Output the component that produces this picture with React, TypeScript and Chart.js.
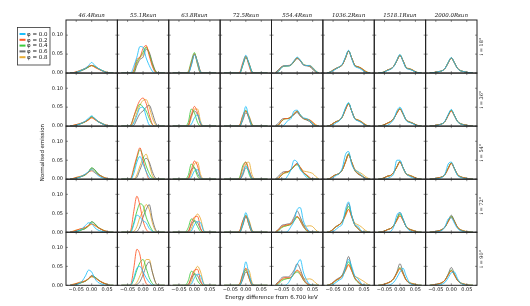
import React, { useEffect, useRef } from 'react';
import { Chart, registerables } from 'chart.js';

Chart.register(...registerables);

// Energy grid (keV offset from 6.700 keV)
const ENERGY = [-0.07, -0.06, -0.05, -0.04, -0.03, -0.02, -0.01, 0, 0.01, 0.02, 0.03, 0.04, 0.05, 0.06, 0.07];
const PHI_LABELS = ['φ = 0.0', 'φ = 0.2', 'φ = 0.4', 'φ = 0.6', 'φ = 0.8'];
const COLUMN_TITLES = ['46.4Rsun', '55.1Rsun', '63.8Rsun', '72.5Rsun', '554.4Rsun', '1036.2Rsun', '1518.1Rsun', '2000.0Rsun'];
const ROW_TITLES = ['i = 18°', 'i = 36°', 'i = 54°', 'i = 72°', 'i = 90°'];
const X_TICKS = [-0.05, 0, 0.05];
const Y_TICKS = [0, 0.05, 0.1];
const X_LABEL = 'Energy difference from 6.700 keV';
const Y_LABEL = 'Normalised emission';

// each panel: [φ0.0, φ0.2, φ0.4, φ0.6, φ0.8]
// row 0: i = 18°
const R0C0 = [
  [0, 0, .002, .005, .009, .013, .02, .028, .02, .013, .008, .004, .001, 0, 0],
  [0, .001, .003, .006, .009, .013, .018, .02, .015, .011, .007, .004, .001, 0, 0],
  [0, 0, .002, .005, .008, .012, .016, .02, .017, .012, .008, .004, .001, 0, 0],
  [0, 0, .001, .004, .007, .011, .016, .02, .018, .013, .008, .004, .001, 0, 0],
  [0, .001, .003, .006, .009, .012, .016, .019, .016, .012, .008, .005, .002, 0, 0],
];
const R0C1 = [
  [0, 0, 0, 0, .018, .042, .07, .068, .04, .02, .005, 0, 0, 0, 0],
  [0, 0, 0, 0, .008, .036, .042, .065, .073, .045, .018, .002, 0, 0, 0],
  [0, 0, 0, 0, .004, .03, .042, .055, .068, .05, .022, .004, 0, 0, 0],
  [0, 0, 0, 0, 0, .02, .036, .042, .063, .055, .028, .006, 0, 0, 0],
  [0, 0, 0, 0, .002, .025, .04, .05, .07, .052, .025, .005, 0, 0, 0],
];
const R0C2 = [
  [0, 0, 0, 0, 0, 0, .02, .048, .028, .002, 0, 0, 0, 0, 0],
  [0, 0, 0, 0, 0, .002, .027, .05, .025, 0, 0, 0, 0, 0, 0],
  [0, 0, 0, 0, 0, .004, .032, .054, .022, 0, 0, 0, 0, 0, 0],
  [0, 0, 0, 0, 0, 0, .022, .05, .03, .004, 0, 0, 0, 0, 0],
  [0, 0, 0, 0, 0, 0, .024, .05, .03, .004, 0, 0, 0, 0, 0],
];
const R0C3 = [
  [0, 0, 0, 0, 0, 0, .022, .047, .025, .003, 0, 0, 0, 0, 0],
  [0, 0, 0, 0, 0, .002, .027, .045, .02, 0, 0, 0, 0, 0, 0],
  [0, 0, 0, 0, 0, 0, .022, .044, .024, .002, 0, 0, 0, 0, 0],
  [0, 0, 0, 0, 0, 0, .02, .04, .027, .004, 0, 0, 0, 0, 0],
  [0, 0, 0, 0, 0, 0, .02, .042, .026, .004, 0, 0, 0, 0, 0],
];
const R0C4 = [
  [0, .005, .015, .019, .019, .022, .033, .042, .034, .022, .02, .02, .014, .005, 0],
  [0, .006, .016, .019, .02, .022, .032, .04, .033, .022, .02, .019, .013, .004, 0],
  [0, .005, .015, .018, .019, .021, .031, .04, .034, .023, .02, .019, .013, .004, 0],
  [.002, .009, .017, .019, .019, .021, .03, .038, .032, .021, .019, .017, .01, .002, 0],
  [.002, .008, .017, .019, .019, .021, .03, .04, .034, .023, .02, .02, .015, .006, .001],
];
const R0C5 = [
  [0, .002, .006, .011, .016, .024, .042, .06, .038, .018, .014, .01, .004, .001, 0],
  [0, .002, .007, .012, .016, .022, .04, .058, .04, .02, .016, .013, .007, .002, 0],
  [0, .002, .007, .012, .016, .022, .04, .059, .04, .02, .016, .013, .007, .002, 0],
  [0, .003, .008, .013, .016, .022, .04, .058, .04, .021, .017, .013, .006, .001, 0],
  [0, .003, .008, .012, .016, .022, .039, .057, .04, .021, .017, .014, .008, .003, 0],
];
const R0C6 = [
  [0, .001, .003, .007, .01, .017, .034, .049, .031, .013, .01, .007, .003, .001, 0],
  [0, .001, .003, .008, .011, .018, .033, .047, .032, .014, .011, .008, .003, .001, 0],
  [0, .001, .003, .008, .011, .018, .033, .048, .032, .014, .011, .008, .003, .001, 0],
  [0, .001, .003, .008, .011, .018, .032, .047, .033, .015, .011, .008, .003, .001, 0],
  [0, .001, .004, .008, .011, .018, .032, .046, .033, .015, .012, .009, .004, .001, 0],
];
const R0C7 = [
  [0, .001, .002, .004, .006, .013, .028, .041, .027, .012, .006, .004, .002, .001, 0],
  [0, .001, .002, .004, .006, .013, .027, .04, .027, .012, .006, .004, .002, .001, 0],
  [0, .001, .002, .004, .006, .013, .028, .04, .027, .012, .006, .004, .002, .001, 0],
  [0, .001, .002, .004, .006, .012, .027, .04, .028, .013, .006, .004, .002, .001, 0],
  [0, .001, .003, .004, .006, .013, .027, .039, .027, .013, .007, .004, .002, .001, 0],
];
// row 1: i = 36°
const R1C0 = [
  [0, 0, .002, .005, .009, .014, .021, .027, .02, .012, .008, .004, .001, 0, 0],
  [0, .002, .004, .006, .009, .012, .017, .022, .017, .012, .008, .004, .002, 0, 0],
  [0, .001, .003, .005, .008, .012, .018, .025, .019, .012, .008, .004, .001, 0, 0],
  [0, 0, .002, .005, .008, .012, .018, .024, .02, .013, .008, .004, .001, 0, 0],
  [0, .002, .004, .006, .009, .012, .016, .022, .018, .013, .009, .005, .002, 0, 0],
];
const R1C1 = [
  [0, 0, 0, 0, .008, .028, .048, .05, .025, .003, 0, 0, 0, 0, 0],
  [0, 0, 0, .002, .025, .05, .068, .074, .06, .03, .005, 0, 0, 0, 0],
  [0, 0, 0, .003, .025, .045, .058, .05, .04, .02, .004, 0, 0, 0, 0],
  [0, 0, 0, 0, .002, .018, .033, .04, .05, .055, .035, .01, 0, 0, 0],
  [0, 0, 0, 0, .012, .035, .055, .068, .07, .05, .022, .004, 0, 0, 0],
];
const R1C2 = [
  [0, 0, 0, 0, 0, 0, .005, .022, .03, .008, 0, 0, 0, 0, 0],
  [0, 0, 0, 0, 0, .003, .03, .052, .035, .005, 0, 0, 0, 0, 0],
  [0, 0, 0, 0, 0, .01, .045, .035, .01, 0, 0, 0, 0, 0, 0],
  [0, 0, 0, 0, 0, .002, .028, .04, .03, .006, 0, 0, 0, 0, 0],
  [0, 0, 0, 0, 0, 0, .022, .045, .045, .012, 0, 0, 0, 0, 0],
];
const R1C3 = [
  [0, 0, 0, 0, 0, 0, .02, .052, .022, 0, 0, 0, 0, 0, 0],
  [0, 0, 0, 0, 0, .003, .028, .04, .02, 0, 0, 0, 0, 0, 0],
  [0, 0, 0, 0, 0, .002, .025, .042, .022, .002, 0, 0, 0, 0, 0],
  [0, 0, 0, 0, 0, 0, .015, .035, .025, .004, 0, 0, 0, 0, 0],
  [0, 0, 0, 0, 0, 0, .018, .04, .028, .006, 0, 0, 0, 0, 0],
];
const R1C4 = [
  [0, 0, 0, .005, .015, .02, .04, .042, .03, .022, .02, .015, .006, 0, 0],
  [0, .003, .014, .02, .02, .025, .033, .04, .028, .02, .018, .016, .01, .002, 0],
  [0, .003, .013, .019, .02, .024, .033, .039, .029, .02, .018, .015, .008, .001, 0],
  [.002, .008, .018, .02, .02, .024, .03, .036, .026, .02, .016, .012, .004, 0, 0],
  [0, .004, .014, .019, .02, .024, .032, .038, .03, .021, .019, .017, .011, .004, 0],
];
const R1C5 = [
  [0, 0, .003, .009, .014, .026, .048, .062, .04, .019, .014, .01, .004, 0, 0],
  [0, .002, .007, .012, .015, .025, .043, .058, .04, .02, .016, .012, .006, .001, 0],
  [0, .002, .007, .012, .015, .025, .045, .06, .04, .02, .016, .012, .006, .001, 0],
  [0, .002, .007, .012, .015, .025, .045, .06, .04, .02, .015, .011, .005, .001, 0],
  [0, .002, .007, .012, .015, .024, .043, .058, .041, .021, .017, .013, .007, .002, 0],
];
const R1C6 = [
  [0, 0, .001, .002, .008, .018, .04, .05, .035, .015, .01, .007, .003, 0, 0],
  [0, .001, .004, .008, .012, .02, .034, .045, .032, .016, .011, .008, .004, .001, 0],
  [0, .001, .004, .008, .012, .02, .035, .046, .032, .016, .011, .008, .004, .001, 0],
  [0, .001, .004, .008, .012, .02, .035, .046, .033, .016, .011, .008, .004, .001, 0],
  [0, .001, .004, .008, .012, .02, .034, .045, .033, .017, .012, .009, .004, .001, 0],
];
const R1C7 = [
  [0, 0, .001, .003, .006, .014, .031, .044, .028, .012, .006, .003, .001, 0, 0],
  [0, .001, .002, .004, .006, .013, .028, .04, .027, .012, .006, .004, .002, .001, 0],
  [0, .001, .002, .004, .006, .013, .029, .042, .028, .012, .006, .004, .002, .001, 0],
  [0, .001, .002, .004, .006, .013, .029, .042, .028, .013, .006, .004, .002, .001, 0],
  [0, .001, .002, .004, .006, .013, .028, .04, .028, .013, .007, .004, .002, .001, 0],
];
// row 2: i = 54°
const R2C0 = [
  [0, 0, .002, .005, .009, .014, .02, .025, .018, .01, .005, .002, 0, 0, 0],
  [0, .002, .004, .006, .009, .013, .019, .022, .017, .012, .008, .004, .002, 0, 0],
  [0, .001, .003, .005, .008, .012, .02, .03, .024, .014, .008, .004, .001, 0, 0],
  [0, .001, .003, .005, .008, .012, .02, .029, .025, .015, .009, .004, .001, 0, 0],
  [0, .002, .005, .007, .009, .012, .018, .025, .021, .014, .009, .005, .002, 0, 0],
];
const R2C1 = [
  [0, 0, 0, 0, .015, .045, .06, .04, .02, .005, 0, 0, 0, 0, 0],
  [0, 0, 0, .002, .03, .06, .083, .05, .02, 0, 0, 0, 0, 0, 0],
  [0, 0, 0, 0, .025, .055, .078, .06, .035, .015, .003, 0, 0, 0, 0],
  [0, 0, 0, 0, 0, .005, .025, .045, .055, .045, .02, .003, 0, 0, 0],
  [0, 0, 0, 0, 0, .012, .035, .055, .066, .04, .01, 0, 0, 0, 0],
];
const R2C2 = [
  [0, 0, 0, 0, 0, 0, .005, .022, .025, .005, 0, 0, 0, 0, 0],
  [0, 0, 0, 0, 0, .002, .025, .048, .035, .005, 0, 0, 0, 0, 0],
  [0, 0, 0, 0, 0, .01, .04, .03, .008, 0, 0, 0, 0, 0, 0],
  [0, 0, 0, 0, 0, .002, .025, .03, .015, .002, 0, 0, 0, 0, 0],
  [0, 0, 0, 0, 0, 0, .015, .04, .045, .012, 0, 0, 0, 0, 0],
];
const R2C3 = [
  [0, 0, 0, 0, 0, 0, .015, .035, .02, .002, 0, 0, 0, 0, 0],
  [0, 0, 0, 0, 0, .002, .028, .045, .025, .002, 0, 0, 0, 0, 0],
  [0, 0, 0, 0, 0, .005, .035, .045, .015, 0, 0, 0, 0, 0, 0],
  [0, 0, 0, 0, 0, 0, .01, .03, .022, .004, 0, 0, 0, 0, 0],
  [0, 0, 0, 0, 0, 0, .015, .04, .045, .012, 0, 0, 0, 0, 0],
];
const R2C4 = [
  [0, 0, 0, 0, .01, .025, .05, .045, .025, .015, .005, 0, 0, 0, 0],
  [0, .002, .012, .018, .02, .025, .035, .04, .03, .018, .012, .005, 0, 0, 0],
  [0, .002, .011, .017, .019, .024, .033, .038, .028, .017, .01, .003, 0, 0, 0],
  [.001, .008, .017, .02, .02, .025, .035, .042, .03, .018, .01, .003, 0, 0, 0],
  [0, .004, .012, .016, .018, .025, .035, .04, .032, .022, .02, .018, .015, .007, 0],
];
const R2C5 = [
  [0, 0, .004, .01, .015, .03, .065, .073, .04, .025, .02, .012, .004, 0, 0],
  [0, .002, .008, .012, .015, .025, .045, .064, .045, .025, .015, .01, .005, .001, 0],
  [0, .002, .008, .012, .015, .025, .046, .066, .045, .024, .015, .01, .005, .001, 0],
  [0, .002, .008, .012, .015, .025, .047, .067, .044, .023, .014, .009, .004, .001, 0],
  [0, .002, .008, .012, .015, .025, .044, .063, .046, .027, .02, .016, .01, .004, 0],
];
const R2C6 = [
  [0, 0, 0, .002, .006, .015, .05, .05, .03, .015, .008, .004, .001, 0, 0],
  [0, .001, .004, .008, .01, .018, .032, .045, .03, .014, .01, .007, .003, .001, 0],
  [0, .001, .004, .008, .01, .018, .032, .046, .03, .014, .01, .007, .003, .001, 0],
  [0, .001, .004, .008, .01, .018, .033, .047, .03, .014, .01, .007, .003, .001, 0],
  [0, .001, .004, .008, .01, .018, .032, .045, .031, .015, .011, .008, .004, .001, 0],
];
const R2C7 = [
  [0, 0, .001, .002, .005, .015, .04, .045, .028, .01, .005, .002, .001, 0, 0],
  [0, .001, .002, .004, .006, .013, .028, .042, .028, .012, .006, .004, .002, .001, 0],
  [0, .001, .002, .004, .006, .013, .029, .043, .028, .012, .006, .004, .002, .001, 0],
  [0, .001, .002, .004, .006, .013, .029, .043, .028, .012, .006, .004, .002, .001, 0],
  [0, .001, .002, .004, .006, .013, .028, .041, .028, .013, .007, .004, .002, .001, 0],
];
// row 3: i = 72°
const R3C0 = [
  [0, 0, .002, .005, .01, .018, .025, .023, .012, .006, .003, .001, 0, 0, 0],
  [0, .002, .005, .008, .01, .013, .018, .022, .018, .012, .008, .004, .002, 0, 0],
  [0, 0, .002, .004, .007, .01, .017, .027, .022, .013, .008, .004, .001, 0, 0],
  [0, 0, .002, .004, .007, .01, .018, .028, .023, .014, .008, .004, .001, 0, 0],
  [0, .003, .006, .008, .01, .012, .016, .021, .018, .013, .009, .005, .002, 0, 0],
];
const R3C1 = [
  [0, 0, 0, 0, .02, .045, .04, .03, .025, .01, .002, 0, 0, 0, 0],
  [0, 0, 0, .005, .055, .095, .07, .03, .008, 0, 0, 0, 0, 0, 0],
  [0, 0, 0, .002, .025, .055, .075, .07, .04, .02, .005, 0, 0, 0, 0],
  [0, 0, 0, 0, 0, .002, .015, .04, .06, .073, .035, .008, 0, 0, 0],
  [0, 0, 0, 0, .002, .015, .04, .055, .073, .06, .025, .004, 0, 0, 0],
];
const R3C2 = [
  [0, 0, 0, 0, 0, 0, .003, .02, .028, .025, .003, 0, 0, 0, 0],
  [0, 0, 0, 0, 0, .002, .025, .04, .042, .01, 0, 0, 0, 0, 0],
  [0, 0, 0, 0, 0, .012, .035, .03, .015, .002, 0, 0, 0, 0, 0],
  [0, 0, 0, 0, 0, .002, .02, .03, .025, .008, 0, 0, 0, 0, 0],
  [0, 0, 0, 0, 0, 0, .01, .035, .048, .035, .005, 0, 0, 0, 0],
];
const R3C3 = [
  [0, 0, 0, 0, 0, 0, .02, .052, .025, .002, 0, 0, 0, 0, 0],
  [0, 0, 0, 0, 0, .004, .03, .043, .02, .001, 0, 0, 0, 0, 0],
  [0, 0, 0, 0, 0, .003, .028, .045, .02, .001, 0, 0, 0, 0, 0],
  [0, 0, 0, 0, 0, 0, .018, .04, .028, .004, 0, 0, 0, 0, 0],
  [0, 0, 0, 0, 0, 0, .018, .043, .033, .006, 0, 0, 0, 0, 0],
];
const R3C4 = [
  [0, 0, 0, 0, .003, .015, .03, .06, .065, .03, .012, .002, 0, 0, 0],
  [0, .006, .015, .018, .02, .022, .035, .042, .03, .015, .006, .002, 0, 0, 0],
  [0, .004, .012, .016, .018, .022, .03, .04, .03, .015, .004, 0, 0, 0, 0],
  [.001, .008, .018, .02, .022, .025, .04, .056, .04, .02, .008, .002, 0, 0, 0],
  [.002, .007, .014, .016, .018, .02, .03, .04, .035, .02, .016, .017, .015, .006, 0],
];
const R3C5 = [
  [0, 0, .002, .008, .015, .022, .06, .08, .045, .02, .016, .005, 0, 0, 0],
  [0, .002, .008, .015, .02, .028, .045, .06, .04, .02, .01, .003, 0, 0, 0],
  [0, .002, .008, .015, .02, .028, .048, .068, .042, .02, .01, .003, 0, 0, 0],
  [0, .001, .008, .015, .02, .03, .05, .076, .045, .02, .01, .003, 0, 0, 0],
  [0, .002, .008, .015, .02, .027, .043, .06, .042, .025, .02, .015, .008, .002, 0],
];
const R3C6 = [
  [0, 0, 0, 0, .002, .015, .045, .052, .035, .015, .005, .001, 0, 0, 0],
  [0, .001, .003, .007, .01, .017, .031, .043, .031, .015, .008, .005, .002, 0, 0],
  [0, .001, .003, .007, .01, .018, .033, .048, .033, .015, .008, .005, .002, 0, 0],
  [0, .001, .003, .007, .01, .018, .035, .052, .035, .015, .008, .005, .002, 0, 0],
  [0, .001, .003, .007, .01, .017, .031, .044, .032, .016, .009, .006, .003, .001, 0],
];
const R3C7 = [
  [0, 0, .001, .002, .005, .015, .035, .038, .024, .01, .004, .002, 0, 0, 0],
  [0, .001, .002, .004, .007, .014, .028, .04, .028, .013, .006, .003, .001, 0, 0],
  [0, .001, .002, .004, .007, .014, .029, .042, .029, .013, .006, .003, .001, 0, 0],
  [0, .001, .002, .004, .007, .015, .03, .045, .03, .013, .006, .003, .001, 0, 0],
  [0, .001, .002, .004, .007, .014, .028, .04, .029, .014, .007, .004, .002, .001, 0],
];
// row 4: i = 90°
const R4C0 = [
  [0, 0, .001, .005, .012, .025, .04, .035, .018, .008, .004, .001, 0, 0, 0],
  [0, .002, .004, .007, .009, .012, .018, .024, .02, .014, .009, .005, .002, 0, 0],
  [0, .001, .003, .005, .008, .011, .017, .024, .022, .015, .009, .005, .002, 0, 0],
  [0, .001, .003, .005, .008, .011, .018, .026, .022, .015, .009, .005, .002, 0, 0],
  [0, .003, .005, .008, .01, .012, .017, .022, .02, .015, .01, .006, .003, 0, 0],
];
const R4C1 = [
  [0, 0, 0, .001, .02, .045, .05, .035, .02, .008, .001, 0, 0, 0, 0],
  [0, 0, 0, .002, .045, .095, .08, .03, .005, 0, 0, 0, 0, 0, 0],
  [0, 0, 0, .001, .015, .04, .06, .068, .045, .02, .005, 0, 0, 0, 0],
  [0, 0, 0, 0, 0, .002, .01, .028, .05, .062, .035, .008, 0, 0, 0],
  [0, 0, 0, 0, 0, .008, .025, .045, .068, .068, .035, .008, 0, 0, 0],
];
const R4C2 = [
  [0, 0, 0, 0, 0, 0, .003, .02, .029, .025, .003, 0, 0, 0, 0],
  [0, 0, 0, 0, 0, .002, .022, .04, .042, .012, 0, 0, 0, 0, 0],
  [0, 0, 0, 0, 0, .012, .037, .03, .012, .002, 0, 0, 0, 0, 0],
  [0, 0, 0, 0, 0, .002, .018, .03, .025, .008, 0, 0, 0, 0, 0],
  [0, 0, 0, 0, 0, 0, .01, .035, .05, .035, .005, 0, 0, 0, 0],
];
const R4C3 = [
  [0, 0, 0, 0, 0, 0, .022, .062, .03, .003, 0, 0, 0, 0, 0],
  [0, 0, 0, 0, 0, .004, .03, .045, .02, .001, 0, 0, 0, 0, 0],
  [0, 0, 0, 0, 0, .003, .027, .04, .02, .001, 0, 0, 0, 0, 0],
  [0, 0, 0, 0, 0, 0, .015, .035, .025, .004, 0, 0, 0, 0, 0],
  [0, 0, 0, 0, 0, 0, .018, .043, .04, .008, 0, 0, 0, 0, 0],
];
const R4C4 = [
  [0, 0, 0, 0, .005, .018, .035, .055, .068, .035, .015, .003, 0, 0, 0],
  [0, .007, .016, .02, .02, .022, .032, .04, .03, .015, .005, .001, 0, 0, 0],
  [0, .004, .012, .016, .018, .02, .03, .035, .028, .014, .004, 0, 0, 0, 0],
  [.002, .01, .02, .022, .022, .028, .04, .057, .042, .02, .008, .002, 0, 0, 0],
  [.002, .008, .015, .017, .018, .02, .03, .038, .035, .02, .016, .017, .014, .006, 0],
];
const R4C5 = [
  [0, 0, .002, .008, .014, .02, .045, .068, .05, .025, .018, .006, 0, 0, 0],
  [0, .002, .007, .014, .018, .025, .04, .055, .038, .02, .01, .003, 0, 0, 0],
  [0, .002, .006, .013, .018, .026, .042, .062, .04, .018, .008, .002, 0, 0, 0],
  [0, .002, .008, .015, .02, .028, .05, .076, .045, .02, .01, .003, 0, 0, 0],
  [0, .002, .007, .013, .017, .024, .038, .052, .04, .025, .02, .015, .01, .004, 0],
];
const R4C6 = [
  [0, 0, 0, 0, .002, .008, .02, .035, .045, .025, .008, .002, 0, 0, 0],
  [0, .001, .003, .006, .01, .018, .032, .045, .03, .014, .007, .004, .002, 0, 0],
  [0, .001, .003, .006, .01, .018, .033, .047, .031, .014, .007, .004, .002, 0, 0],
  [0, 0, .002, .006, .01, .018, .035, .057, .035, .014, .006, .003, .001, 0, 0],
  [0, .001, .003, .006, .01, .017, .031, .043, .031, .015, .008, .005, .003, .001, 0],
];
const R4C7 = [
  [0, 0, 0, .001, .003, .008, .02, .033, .035, .018, .006, .002, 0, 0, 0],
  [0, .001, .002, .004, .007, .014, .027, .038, .027, .013, .006, .003, .001, 0, 0],
  [0, .001, .002, .004, .007, .014, .028, .04, .028, .013, .006, .003, .001, 0, 0],
  [0, .001, .002, .004, .007, .014, .03, .047, .03, .013, .006, .003, .001, 0, 0],
  [0, .001, .002, .004, .007, .014, .027, .039, .028, .014, .007, .004, .002, .001, 0],
];

const PANELS = [
  [R0C0, R0C1, R0C2, R0C3, R0C4, R0C5, R0C6, R0C7],
  [R1C0, R1C1, R1C2, R1C3, R1C4, R1C5, R1C6, R1C7],
  [R2C0, R2C1, R2C2, R2C3, R2C4, R2C5, R2C6, R2C7],
  [R3C0, R3C1, R3C2, R3C3, R3C4, R3C5, R3C6, R3C7],
  [R4C0, R4C1, R4C2, R4C3, R4C4, R4C5, R4C6, R4C7],
];

const COLORS = ['#1CBEFA', '#FF5522', '#3CCB3C', '#6E6E6E', '#E9AC33'];
const X_MIN = -0.083;
const X_MAX = 0.083;
const Y_MAX = 0.14;
const SANS = 'DejaVu Sans';
const SERIF = 'DejaVu Serif';

function fmtX(v: number) {
  const n = Number(v);
  const s = Math.abs(n).toFixed(2);
  return n < -1e-9 ? '\u2212' + s : s;
}

const framesPlugin = {
  id: 'framesPlugin',
  afterDatasetsDraw(chart: any) {
    const ctx = chart.ctx;
    ctx.save();
    const nRows = PANELS.length;
    const nCols = PANELS[0].length;
    for (let r = 0; r < nRows; r++) {
      const ys = chart.scales['y' + r];
      for (let c = 0; c < nCols; c++) {
        const xs = chart.scales['x' + c];
        const l = xs.left, rt = xs.right, t = ys.top, b = ys.bottom;
        ctx.strokeStyle = '#4a4a4a';
        ctx.lineWidth = 0.6;
        ctx.beginPath();
        for (const v of X_TICKS) {
          const px = xs.getPixelForValue(v);
          ctx.moveTo(px, b); ctx.lineTo(px, b - 2);
          ctx.moveTo(px, t); ctx.lineTo(px, t + 2);
        }
        for (const v of Y_TICKS) {
          const py = ys.getPixelForValue(v);
          ctx.moveTo(l, py); ctx.lineTo(l + 2, py);
          ctx.moveTo(rt, py); ctx.lineTo(rt - 2, py);
        }
        ctx.stroke();
        ctx.strokeStyle = '#222';
        ctx.lineWidth = 1;
        ctx.strokeRect(l, t, rt - l, b - t);
      }
    }
    ctx.restore();
  },
  afterDraw(chart: any) {
    const ctx = chart.ctx;
    ctx.save();
    // legend
    ctx.strokeStyle = '#333';
    ctx.lineWidth = 0.8;
    ctx.fillStyle = '#fff';
    ctx.fillRect(17.5, 27.5, 32.5, 37.5);
    ctx.strokeRect(17.5, 27.5, 32.5, 37.5);
    ctx.font = `5.5px "${SANS}"`;
    ctx.textAlign = 'left';
    ctx.textBaseline = 'middle';
    for (let k = 0; k < PHI_LABELS.length; k++) {
      const ds = chart.data.datasets[k];
      const y = 34 + k * 5.8;
      ctx.strokeStyle = ds.borderColor;
      ctx.lineWidth = 2;
      ctx.beginPath();
      ctx.moveTo(19.5, y); ctx.lineTo(25.5, y);
      ctx.stroke();
      ctx.fillStyle = '#111';
      ctx.fillText(ds.label, 27, y + 0.3);
    }
    // row labels on the right
    ctx.font = `5px "${SERIF}"`;
    ctx.textAlign = 'center';
    ctx.fillStyle = '#111';
    for (let r = 0; r < ROW_TITLES.length; r++) {
      const ys = chart.scales['y' + r];
      ctx.save();
      ctx.translate(482, (ys.top + ys.bottom) / 2);
      ctx.rotate(-Math.PI / 2);
      ctx.fillText(ROW_TITLES[r], 0, 0);
      ctx.restore();
    }
    ctx.restore();
  },
};

export default function App() {
  const ref = useRef<HTMLCanvasElement>(null);
  useEffect(() => {
    const canvas = ref.current;
    if (!canvas) return;
    const datasets: any[] = [];
    PANELS.forEach((row, r) =>
      row.forEach((panel, c) =>
        panel.forEach((vals, k) => {
          datasets.push({
            label: PHI_LABELS[k],
            data: ENERGY.map((e, i) => ({ x: e, y: vals[i] })),
            xAxisID: 'x' + c,
            yAxisID: 'y' + r,
            borderColor: COLORS[k],
            backgroundColor: COLORS[k],
            borderWidth: 0.85,
            pointRadius: 0,
            fill: false,
            cubicInterpolationMode: 'monotone',
          });
        })
      )
    );
    const scales: any = {};
    COLUMN_TITLES.forEach((title, c) => {
      scales['x' + c] = {
        type: 'linear', axis: 'x', position: 'bottom', stack: 'cols', stackWeight: 1, weight: c,
        min: X_MIN, max: X_MAX,
        grid: { display: false, drawTicks: false },
        border: { display: false },
        ticks: {
          font: { size: 5, family: SANS }, color: '#111', padding: 1.5,
          autoSkip: false, maxRotation: 0, minRotation: 0,
          callback: (v: any) => fmtX(v),
        },
        afterBuildTicks: (s: any) => { s.ticks = X_TICKS.map((v) => ({ value: v })); },
        afterFit: (s: any) => { s.height = 9.1; },
      };
      scales['t' + c] = {
        type: 'linear', axis: 'x', position: 'top', stack: 'tcols', stackWeight: 1, weight: 10 - c,
        min: X_MIN, max: X_MAX,
        grid: { display: false, drawTicks: false },
        border: { display: false },
        ticks: { display: false },
        title: {
          display: true, text: title, color: '#111',
          font: { size: 5.5, family: SERIF, style: 'italic' },
          padding: { top: 12.4, bottom: 0 },
        },
        afterFit: (s: any) => { s.height = 20; },
      };
    });
    ROW_TITLES.forEach((_t, r) => {
      scales['y' + r] = {
        type: 'linear', axis: 'y', position: 'left', stack: 'rows', stackWeight: 1, weight: 10 - r,
        min: 0, max: Y_MAX,
        grid: { display: false, drawTicks: false },
        border: { display: false },
        ticks: {
          font: { size: 5, family: SANS }, color: '#111', padding: 3,
          autoSkip: false, callback: (v: any) => Number(v).toFixed(2),
        },
        afterBuildTicks: (s: any) => { s.ticks = Y_TICKS.map((v) => ({ value: v })); },
        afterFit: (s: any) => { s.width = 66; },
        title: r === 2
          ? { display: true, text: Y_LABEL, color: '#111', font: { size: 5.5, family: SANS }, padding: { top: 39.7, bottom: 0 } }
          : { display: false },
      };
    });
    const chart = new Chart(canvas, {
      type: 'line',
      data: { datasets },
      options: {
        animation: false,
        responsive: false,
        events: [],
        layout: { padding: { left: 0, top: 0, right: 53, bottom: 0 }, autoPadding: false },
        scales,
        plugins: {
          legend: { display: false },
          tooltip: { enabled: false },
          title: {
            display: true, position: 'bottom', fullSize: false, text: X_LABEL, color: '#111',
            font: { size: 5.5, family: SANS, weight: 'normal' },
            padding: { top: 0, bottom: 5 },
          },
        },
      } as any,
      plugins: [framesPlugin],
    });
    return () => chart.destroy();
  }, []);
  return (
    <div style={{ position: 'absolute', left: 0, top: 0, width: 530, height: 306, background: '#fff' }}>
      <canvas ref={ref} width={530} height={306} style={{ width: 530, height: 306, display: 'block' }} />
    </div>
  );
}
